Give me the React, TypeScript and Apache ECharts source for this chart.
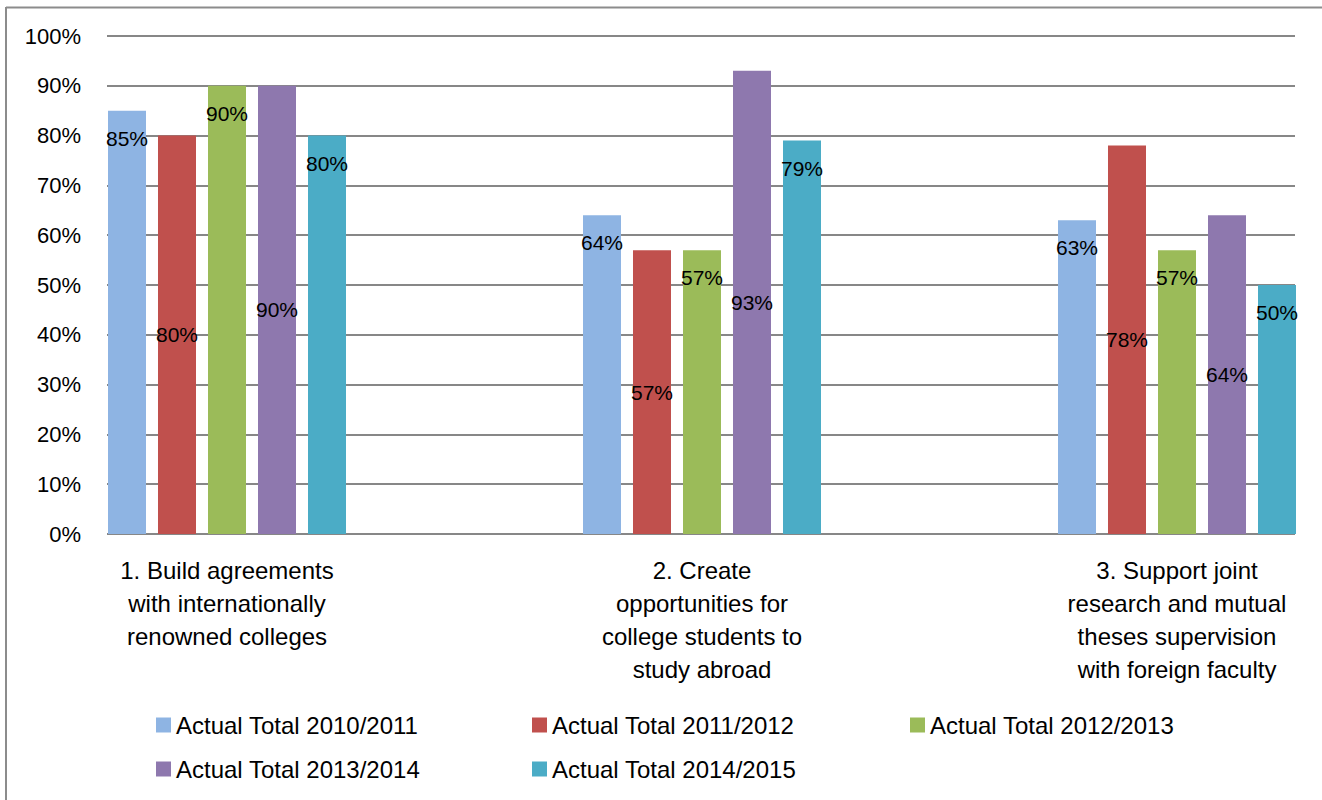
import React, { useEffect, useRef } from "react";
import * as echarts from "echarts";

const categories = [
  "1. Build agreements\nwith internationally\nrenowned colleges",
  "2. Create\nopportunities for\ncollege students to\nstudy abroad",
  "3. Support joint\nresearch and mutual\ntheses supervision\nwith foreign faculty",
];
const seriesNames = [
  "Actual Total 2010/2011",
  "Actual Total 2011/2012",
  "Actual Total 2012/2013",
  "Actual Total 2013/2014",
  "Actual Total 2014/2015",
];
const values2010 = [85, 64, 63];
const values2011 = [80, 57, 78];
const values2012 = [90, 57, 57];
const values2013 = [90, 93, 64];
const values2014 = [80, 79, 50];
const seriesValues = [values2010, values2011, values2012, values2013, values2014];
const colors = ["#8EB4E3", "#C0504D", "#9BBB59", "#8E78AE", "#4BACC6"];
const labelPlacement = ["insideTop", "inside", "insideTop", "inside", "insideTop"];

const FONT = "'Liberation Sans', Arial, sans-serif";

const legendPos = [
  { left: 156, top: 713 },
  { left: 532, top: 713 },
  { left: 910, top: 713 },
  { left: 156, top: 757 },
  { left: 532, top: 757 },
];

export default function App() {
  const ref = useRef<HTMLDivElement>(null);
  useEffect(() => {
    document.body.style.margin = "0";
    if (!ref.current) return;
    const chart = echarts.init(ref.current, null, { renderer: "svg" });
    const option: any = {
      animation: false,
      backgroundColor: "#ffffff",
      textStyle: { fontFamily: FONT },
      grid: [
        { left: 107, width: 1188, top: 36, height: 498, outerBoundsMode: "none" },
        { left: -10.5, width: 1425, top: 36, height: 498, outerBoundsMode: "none" },
      ],
      xAxis: [
        { gridIndex: 0, type: "value", min: 0, max: 1, show: false },
        {
          gridIndex: 1,
          type: "category",
          data: categories,
          axisLine: { show: false },
          axisTick: { show: false },
          axisLabel: {
            margin: 20,
            color: "#000",
            fontSize: 24,
            lineHeight: 33,
            fontFamily: FONT,
            interval: 0,
          },
        },
      ],
      yAxis: [
        {
          gridIndex: 0,
          type: "value",
          min: 0,
          max: 100,
          interval: 10,
          axisLine: { show: false },
          axisTick: { show: false },
          axisLabel: {
            formatter: "{value}%",
            margin: 26,
            color: "#000",
            fontSize: 22,
            fontFamily: FONT,
          },
          splitLine: { lineStyle: { color: "#878787", width: 2 } },
        },
        { gridIndex: 1, type: "value", min: 0, max: 100, show: false },
      ],
      legend: seriesNames.map((n, i) => ({
        data: [n],
        left: legendPos[i].left,
        top: legendPos[i].top,
        itemWidth: 15,
        itemHeight: 15,
        icon: "rect",
        padding: 0,
        textStyle: { fontSize: 24, color: "#000", fontFamily: FONT },
      })),
      graphic: [
        { type: "line", shape: { x1: 6, y1: 7.5, x2: 1322, y2: 7.5 }, style: { stroke: "#8c8c8c", lineWidth: 2 } },
        { type: "line", shape: { x1: 6, y1: 7, x2: 6, y2: 800 }, style: { stroke: "#8c8c8c", lineWidth: 2 } },
      ],
      series: seriesNames.map((n, i) => ({
        name: n,
        type: "bar",
        xAxisIndex: 1,
        yAxisIndex: 1,
        data: seriesValues[i],
        barWidth: 38,
        barGap: "31.58%",
        itemStyle: { color: colors[i] },
        label: {
          show: true,
          position: labelPlacement[i],
          distance: 17,
          formatter: "{c}%",
          color: "#000",
          fontSize: 21,
          fontFamily: FONT,
        },
      })),
    };
    chart.setOption(option);
    return () => chart.dispose();
  }, []);
  return <div ref={ref} style={{ width: 1322, height: 800 }} />;
}
